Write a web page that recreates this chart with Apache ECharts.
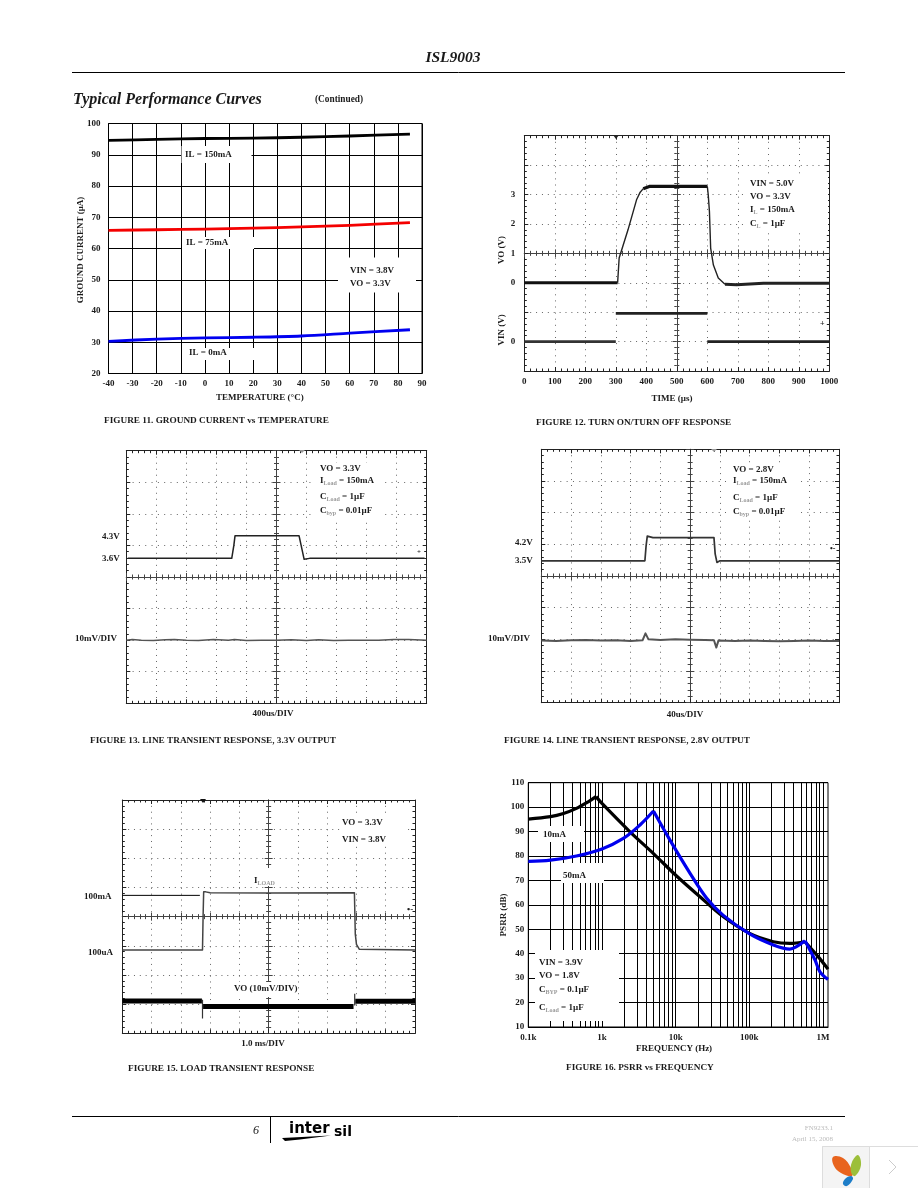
<!DOCTYPE html>
<html><head><meta charset="utf-8">
<script src="https://cdn.jsdelivr.net/npm/echarts@6/dist/echarts.min.js"></script>
<style>html,body{margin:0;padding:0;background:#fff}#c{width:918px;height:1188px}</style>
</head><body><div id="c"></div>
<script>
// ---------- Figure 11 data
const f11Temps = [-40,-20,0,20,40,60,85];
const f11Il150 = [94.6,94.9,95.2,95.3,95.6,96.0,96.6];
const f11Il75  = [65.8,66.0,66.2,66.5,66.9,67.4,68.3];
const f11Il0   = [30.3,31.0,31.4,31.6,32.0,32.9,34.0];
// ---------- Figure 12 data
const f12VoLow  = [[0,0],[306,0]];
const f12VoRise = [[306,0],[311,0.84],[340,1.8],[368,2.82],[380,3.08],[390,3.2]];
const f12VoHigh = [[390,3.2],[412,3.28],[600,3.28]];
const f12VoFall = [[600,3.28],[603,3.0],[607,2.42],[611,1.18],[620,0.6],[636,0.16],[658,-0.05]];
const f12VoTail = [[658,-0.05],[696,-0.07],[784,-0.02],[1000,-0.02]];
const f12VinA = [[0,-2],[300,-2]];
const f12VinB = [[300,-1.04],[600,-1.04]];
const f12VinC = [[600,-2],[1000,-2]];
const f12YLabels = {'3':'3','2':'2','1':'1','0':'0','-2':'0'};
const f12XTickLabels = ['0','100','200','300','400','500','600','700','800','900','1000'];
// ---------- Figure 13 data (in scope divisions)
const f13Input = [[0.05,0.59],[3.51,0.59],[3.58,1.0],[3.62,1.31],[5.75,1.31],[5.82,1.0],[5.92,0.56],[6.1,0.59],[9.93,0.59]];
const f13Output = [[0,-2.0],[0.2,-1.98],[0.5,-2.0],[0.9,-2.01],[1.3,-1.99],[1.6,-1.98],[2.0,-2.0],[2.4,-2.01],[2.9,-1.98],[3.4,-2.0],[3.6,-1.98],[4.0,-2.01],[4.5,-2.0],[5.0,-2.0],[5.5,-1.99],[6.0,-2.01],[6.4,-1.99],[6.9,-2.01],[7.4,-2.0],[7.9,-2.0],[8.4,-2.0],[8.9,-1.98],[9.4,-1.98],[10,-2.0]];
// ---------- Figure 14 data
const f14Input = [[0,0.48],[3.48,0.48],[3.52,0.95],[3.56,1.26],[3.75,1.21],[5.8,1.21],[5.84,0.7],[5.9,0.43],[6.0,0.48],[10,0.48]];
const f14Output = [[0,-2.04],[0.5,-2.05],[1.0,-2.03],[1.5,-2.02],[2.0,-2.04],[2.5,-2.03],[3.0,-2.05],[3.4,-2.03],[3.5,-1.81],[3.6,-2.0],[4.0,-2.02],[4.5,-2.0],[5.0,-2.01],[5.5,-2.02],[5.8,-2.03],[5.88,-2.26],[5.95,-2.04],[6.5,-2.05],[7.0,-2.04],[7.5,-2.05],[8.0,-2.06],[8.5,-2.05],[9.0,-2.04],[9.5,-2.05],[10,-2.05]];
// ---------- Figure 15 data
const f15Load = [[0,-1.14],[2.74,-1.14],[2.76,0],[2.78,0.85],[2.85,0.85],[3.0,0.82],[5,0.81],[7.93,0.82],[7.96,-0.6],[8.0,-0.95],[8.1,-1.12],[10,-1.14]];
const f15Stray = [[0,0.73],[2.65,0.73]];
const f15VoA = [[0,-2.89],[2.72,-2.89]];
const f15VoSpike = [[2.74,-2.85],[2.74,-3.49]];
const f15VoB = [[2.76,-3.08],[7.9,-3.08]];
const f15VoSpike2 = [[7.94,-2.64],[7.94,-3.05]];
const f15VoC = [[7.96,-2.9],[10,-2.9]];
// ---------- Figure 16 data: each curve in pieces broken at its peaks
const f16Black1 = [[100,95.1],[200,96.1],[300,97.4],[450,99.5],[650,102.2],[830,104.3]];
const f16Black2 = [[830,104.3],[1000,101.5],[2400,89.9],[5000,81],[10300,71.8],[21400,63.3],[44000,55.2],[101000,48.3],[212000,44.9],[355000,44.2],[570000,44.9]];
const f16Black3 = [[570000,44.9],[860000,38.8],[1170000,33.7]];
const f16Blue1 = [[100,77.8],[200,78.3],[450,80],[1000,82.9],[1950,87.2],[3280,92.7],[5000,98.4]];
const f16Blue2 = [[5000,98.4],[8380,86.5],[15700,72.9],[26400,62.7],[44000,55.8],[101000,48.1],[212000,43.6],[355000,41.9],[437000,42.9],[570000,45.3]];
const f16Blue3 = [[570000,45.3],[780000,37.4],[910000,32.6],[1170000,29.5]];
const f16GridFreqs = [100,200,300,400,500,600,700,800,900,1000,2000,3000,4000,5000,6000,7000,8000,9000,10000,20000,30000,40000,50000,60000,70000,80000,90000,100000,200000,300000,400000,500000,600000,700000,800000,900000,1000000];
const f16LabelFreqs = [100,1000,10000,100000,1000000];
const f16LabelText = ['0.1k','1k','10k','100k','1M'];

const FONT = 'Liberation Serif';
const INK = '#1a1a1a';
const grids=[], xAxes=[], yAxes=[], series=[], gfx=[];

function addPlain(rect, x, y){
  const gi = grids.length;
  grids.push({left:rect[0],top:rect[1],width:rect[2],height:rect[3],show:true,borderColor:'#000',borderWidth:1,backgroundColor:'transparent'});
  const xi = xAxes.length, yi = yAxes.length;
  xAxes.push(Object.assign({gridIndex:gi,position:'bottom',axisLine:{show:true,lineStyle:{color:'#000'}},axisTick:{show:false},splitLine:{show:true,lineStyle:{color:'#000',width:1}},axisLabel:{fontFamily:FONT,fontWeight:'bold',fontSize:9,color:INK,margin:6,showMinLabel:true,showMaxLabel:true}},x));
  yAxes.push(Object.assign({gridIndex:gi,type:'value',position:'left',axisLine:{show:true,lineStyle:{color:'#000'}},axisTick:{show:false},splitLine:{show:true,lineStyle:{color:'#000',width:1}},axisLabel:{fontFamily:FONT,fontWeight:'bold',fontSize:9,color:INK,margin:8,showMinLabel:true,showMaxLabel:true}},y));
  return {xi,yi};
}
function addScope(rect, xr, yr, labelCfg){
  const gi = grids.length;
  grids.push({left:rect[0],top:rect[1],width:rect[2],height:rect[3],show:false});
  const xi = xAxes.length, yi = yAxes.length;
  const w = rect[2], h = rect[3];
  const xStep = w/10, yStep = h/8;
  const mk = (pos, off, inside, col, extra) => Object.assign({
    gridIndex:gi, type:'value', position:pos, offset:off,
    axisLine:{show:true,onZero:false,lineStyle:{color:col,width:1}},
    axisTick:{show:true,inside:inside,length:4,lineStyle:{color:col}},
    minorTick:{show:true,splitNumber:5,length:2.5,lineStyle:{color:col}},
    splitLine:{show:false}, axisLabel:{show:false}}, extra);
  const xc = {min:xr[0],max:xr[1],interval:xr[2]}, yc = {min:yr[0],max:yr[1],interval:yr[2]};
  const xMain = mk('bottom',0,true,'#222',xc);
  xMain.splitLine = {show:true,lineStyle:{color:'#666',width:1,type:[1,xStep/5-1]}};
  const yMain = mk('left',0,true,'#222',yc);
  yMain.splitLine = {show:true,lineStyle:{color:'#666',width:1,type:[1,yStep/5-1]}};
  if(labelCfg && labelCfg.x) xMain.axisLabel = Object.assign({show:true,fontFamily:FONT,fontWeight:'bold',fontSize:9,color:INK,margin:6,showMinLabel:true,showMaxLabel:true},labelCfg.x);
  if(labelCfg && labelCfg.y) yMain.axisLabel = Object.assign({show:true,fontFamily:FONT,fontWeight:'bold',fontSize:9,color:INK,margin:9,showMinLabel:true,showMaxLabel:true},labelCfg.y);
  xAxes.push(xMain, mk('top',0,true,'#222',xc), mk('bottom',-h/2,true,'#444',xc), mk('bottom',-h/2,false,'#444',xc));
  yAxes.push(yMain, mk('right',0,true,'#222',yc), mk('left',-w/2,true,'#444',yc), mk('left',-w/2,false,'#444',yc));
  return {xi,yi};
}
function line(ax, data, color, width, extra){
  series.push(Object.assign({type:'line',xAxisIndex:ax.xi,yAxisIndex:ax.yi,data,showSymbol:false,symbol:'none',clip:false,animation:false,silent:true,z:3,lineStyle:{color,width,cap:'butt',join:'round'}},extra||{}));
}
const zip=(a,b)=>a.map((v,i)=>[v,b[i]]);
function box(x,y,w,h){ gfx.push({type:'rect',shape:{x,y,width:w,height:h},style:{fill:'#fff'},z:20,silent:true}); }
function txt(x,y,text,o){
  o=o||{};
  gfx.push({type:'text',x,y,rotation:o.rot||0,z:30,silent:true,style:{
    text,fill:o.color||INK,font:(o.italic?'italic ':'')+(o.bold===false?'':'bold ')+(o.size||9)+'px "'+(o.family||FONT)+'"',
    textAlign:o.align||'left',textVerticalAlign:'middle',
    rich:{s:{fontSize:6,fontFamily:FONT,fill:'#9a9a9a',fontWeight:'bold',padding:[5,0,0,0]}}
  }});
}
function rule(x1,y1,x2,y2,w,c){ gfx.push({type:'line',shape:{x1,y1,x2,y2},style:{stroke:c||'#000',lineWidth:w||1},z:30,silent:true}); }
function poly(points,fill,smooth,z){ gfx.push({type:'polygon',shape:{points,smooth:smooth||0},style:{fill},z:z||30,silent:true}); }
const CAP = 9.25;

// ---- Fig 11
const a11 = addPlain([108.5,123.5,313.5,250],
  {type:'value',min:-40,max:90,interval:10},
  {min:20,max:100,interval:10});
line(a11,zip(f11Temps,f11Il150),'#000',2.8,{smooth:0.3});
line(a11,zip(f11Temps,f11Il75),'#f40000',2.8,{smooth:0.3});
line(a11,zip(f11Temps,f11Il0),'#0000f0',2.8,{smooth:0.3});
box(181.5,146,70,17); box(182,237,72,12); box(184,348,71,12); box(338,257.5,78,35);
txt(185,155,'IL = 150mA'); txt(186,243,'IL = 75mA'); txt(189,353,'IL = 0mA');
txt(350,271,'VIN = 3.8V'); txt(350,284,'VO = 3.3V');
txt(81,250,'GROUND CURRENT (µA)',{rot:Math.PI/2,align:'center'});
txt(216,398,'TEMPERATURE (°C)');
txt(104,421,'FIGURE 11. GROUND CURRENT vs TEMPERATURE',{size:CAP});

// ---- Fig 12
const a12 = addScope([524.3,135.7,305,235.3],[0,1000,100],[-3,5,1],{
  x:{formatter:(v)=>f12XTickLabels[Math.round(v/100)]},
  y:{formatter:(v)=>f12YLabels[String(v)]||''}});
line(a12,f12VoLow,'#111',3.2);
line(a12,f12VoRise,'#222',1.4);
line(a12,f12VoHigh,'#111',3.2);
line(a12,f12VoFall,'#222',1.4);
line(a12,f12VoTail,'#222',3);
line(a12,f12VinA,'#333',2.8);
line(a12,f12VinB,'#222',2.8);
line(a12,f12VinC,'#222',2.8);
box(745,177,83,56);
txt(750,184,'VIN = 5.0V'); txt(750,197,'VO = 3.3V'); txt(750,210,'I{s|L} = 150mA'); txt(750,224,'C{s|L} = 1µF');
txt(502,250,'VO (V)',{rot:Math.PI/2,align:'center',bold:true});
txt(502,330,'VIN (V)',{rot:Math.PI/2,align:'center'});
txt(672,399,'TIME (µs)',{align:'center'});
txt(536,423,'FIGURE 12. TURN ON/TURN OFF RESPONSE',{size:CAP});
poly([[613,135],[619,135],[616,139]],'#222');
txt(820,324,'+',{size:8});

// ---- Fig 13
const a13 = addScope([126.3,450.7,300.4,252.6],[0,10,1],[-4,4,1]);
line(a13,f13Input,'#222',1.5);
line(a13,f13Output,'#555',1.5);
box(315,463,66,56);
txt(320,469,'VO = 3.3V'); txt(320,481,'I{s|Load} = 150mA'); txt(320,497,'C{s|Load} = 1µF'); txt(320,511,'C{s|byp} = 0.01µF');
txt(102,537,'4.3V'); txt(102,559,'3.6V'); txt(75,639,'10mV/DIV');
txt(273,714,'400us/DIV',{align:'center'});
txt(90,741,'FIGURE 13. LINE TRANSIENT RESPONSE, 3.3V OUTPUT',{size:CAP});
poly([[299,450],[305,450],[302,453]],'#999');
txt(417,552,'+',{size:7});

// ---- Fig 14
const a14 = addScope([541.3,449.3,297.7,253.4],[0,10,1],[-4,4,1]);
line(a14,f14Input,'#333',1.7);
line(a14,f14Output,'#555',2);
box(728,463,72,56);
txt(733,470,'VO = 2.8V'); txt(733,481,'I{s|Load} = 150mA'); txt(733,498,'C{s|Load} = 1µF'); txt(733,512,'C{s|byp} = 0.01µF');
txt(515,543,'4.2V'); txt(515,561,'3.5V'); txt(488,639,'10mV/DIV');
txt(685,715,'40us/DIV',{align:'center'});
txt(504,741,'FIGURE 14. LINE TRANSIENT RESPONSE, 2.8V OUTPUT',{size:CAP});
poly([[711,449],[717,449],[714,452]],'#999');
txt(830,549,'•-',{size:8});

// ---- Fig 15
const a15 = addScope([122.3,800,292.7,233.3],[0,10,1],[-4,4,1]);
line(a15,f15Load,'#444',1.5);
line(a15,f15Stray,'#000',1);
line(a15,f15VoA,'#000',5);
line(a15,f15VoSpike,'#333',1.2);
line(a15,f15VoB,'#000',5);
line(a15,f15VoSpike2,'#333',1.2);
line(a15,f15VoC,'#000',5);
box(340,817,64,29); box(244,868,50,18); box(230,982,64,15);
txt(342,823,'VO = 3.3V'); txt(342,840,'VIN = 3.8V');
txt(254,881,'I{s|LOAD}'); txt(234,989,'VO (10mV/DIV)');
txt(263,1044,'1.0 ms/DIV',{align:'center'});
txt(84,897,'100mA'); txt(88,953,'100uA');
txt(128,1069,'FIGURE 15. LOAD TRANSIENT RESPONSE',{size:CAP});
poly([[200,799],[206,799],[203,803]],'#111');
txt(407,910,'•-',{size:9});

// ---- Fig 16
const a16 = addPlain([528.3,782.7,299.7,244.3],
  {type:'log',logBase:10,min:100,max:1170000,
   axisTick:{show:false,customValues:f16GridFreqs},
   splitLine:{show:true,lineStyle:{color:'#000',width:1}},
   axisLabel:{fontFamily:FONT,fontWeight:'bold',fontSize:9,color:INK,margin:6,customValues:f16LabelFreqs,
     formatter:(v)=>{const i=f16LabelFreqs.findIndex(f=>Math.abs(f-v)/f<1e-6);return i<0?'':f16LabelText[i];}}},
  {min:10,max:110,interval:10,axisLabel:{fontFamily:FONT,fontWeight:'bold',fontSize:9,color:INK,margin:4,showMaxLabel:true,showMinLabel:true}});
[f16Black1,f16Black2,f16Black3].forEach(d=>line(a16,d,'#000',3.2,{smooth:0.35}));
[f16Blue1,f16Blue2,f16Blue3].forEach(d=>line(a16,d,'#0000ee',3.2,{smooth:0.35,z:4}));
box(538,826,46,16); box(561,863,43,20); box(535,950,84,71);
txt(543,835,'10mA'); txt(563,876,'50mA');
txt(539,963,'VIN = 3.9V'); txt(539,976,'VO = 1.8V'); txt(539,990,'C{s|BYP} = 0.1µF'); txt(539,1008,'C{s|Load} = 1µF');
txt(674,1049,'FREQUENCY (Hz)',{align:'center'});
txt(504,915,'PSRR (dB)',{rot:Math.PI/2,align:'center'});
txt(566,1068,'FIGURE 16. PSRR vs FREQUENCY',{size:CAP});

// ---- Page furniture
txt(453,58,'ISL9003',{size:15.5,italic:true,align:'center'});
rule(72,72.5,845,72.5,1);
txt(73,100,'Typical Performance Curves',{size:16,italic:true});
txt(315,100,'(Continued)',{size:9.3});
rule(72,1116.5,845,1116.5,1);
rule(270.5,1117,270.5,1143,1);
txt(253,1131,'6',{size:12,italic:true,bold:false});
txt(289,1129,'inter',{size:15,family:'DejaVu Sans',color:'#000'});
txt(334,1132,'sil',{size:14,family:'DejaVu Sans',color:'#000'});
poly([[282,1138],[331,1135.5],[300,1139.5],[285,1141]],'#000');
txt(833,1128,'FN9233.1',{size:7,bold:false,align:'right',color:'#bbb'});
txt(833,1139,'April 15, 2008',{size:7,bold:false,align:'right',color:'#bbb'});
gfx.push({type:'rect',shape:{x:822.5,y:1146.5,width:96,height:42},style:{fill:'#fff',stroke:'#ddd',lineWidth:1},z:10,silent:true});
gfx.push({type:'rect',shape:{x:822.5,y:1146.5,width:47,height:42},style:{fill:'#f4f4f4',stroke:'#ddd',lineWidth:1},z:10,silent:true});
poly([[833,1157],[843,1158],[851,1168],[852,1176],[841,1173],[834,1166]],'#e8641e',0.4);
poly([[858,1155],[861,1165],[855,1176],[851,1172],[852,1162]],'#9cbf3a',0.4);
poly([[851,1176],[853,1179],[847,1186],[843,1184],[845,1179]],'#1e7ec8',0.4);
rule(889,1160,896,1167,1,'#ccc'); rule(896,1167,889,1174,1,'#ccc');

echarts.init(document.getElementById('c'),null,{renderer:'canvas'}).setOption({
  animation:false,backgroundColor:'#fff',grid:grids,xAxis:xAxes,yAxis:yAxes,series,graphic:{elements:gfx}
});
</script></body></html>
